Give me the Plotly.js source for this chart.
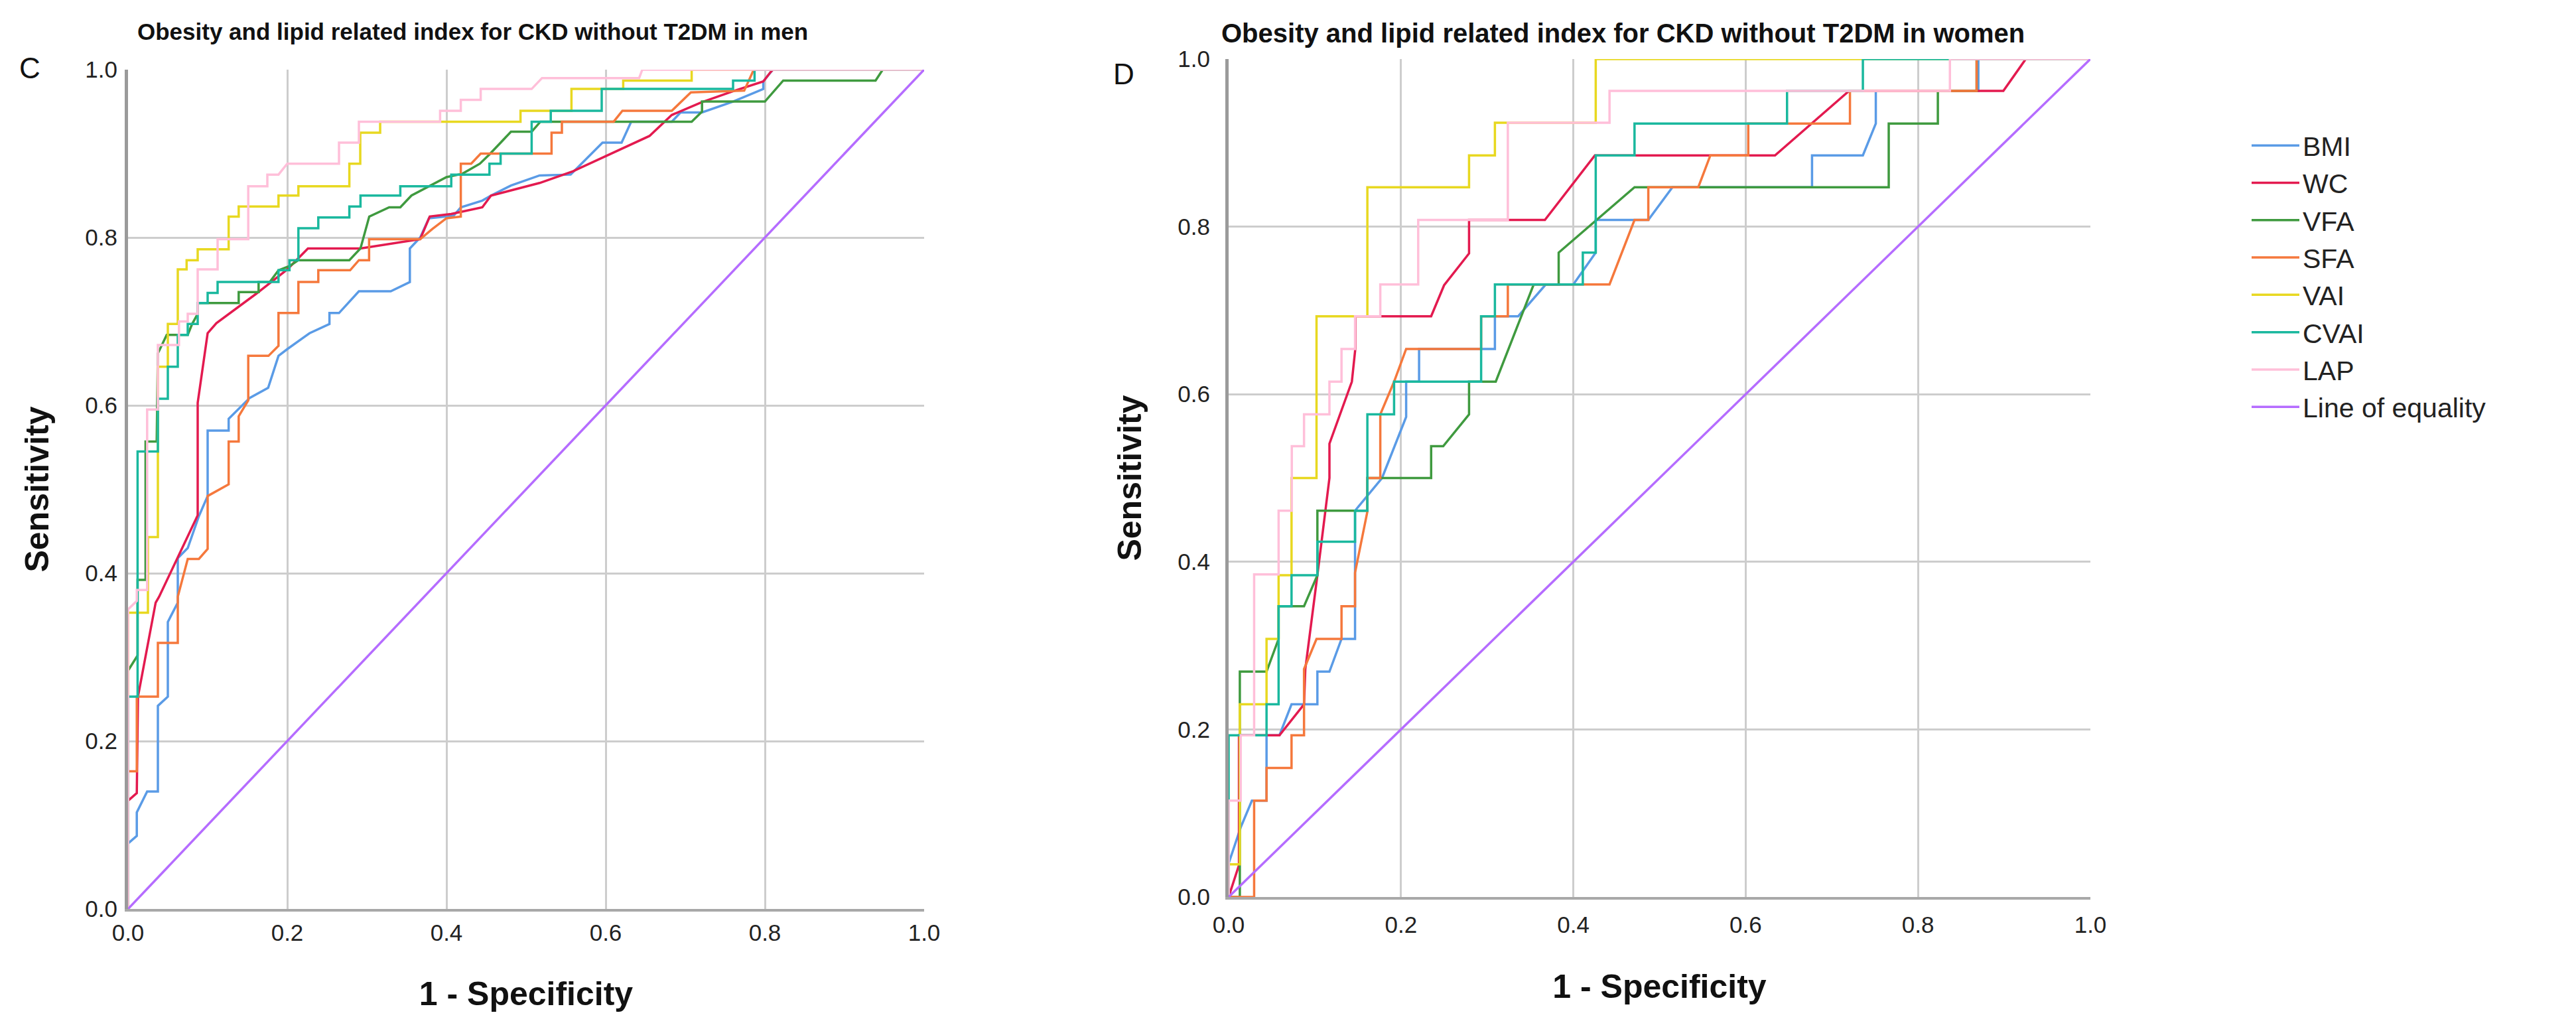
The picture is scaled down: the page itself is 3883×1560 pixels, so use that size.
<!DOCTYPE html>
<html>
<head>
<meta charset="utf-8">
<script src="https://cdn.plot.ly/plotly-3.0.1.min.js"></script>
<style>
html,body{margin:0;padding:0;background:#fff;}
#chart{width:3883px;height:1560px;}
</style>
</head>
<body>
<div id="chart"></div>
<script>
// ---------- series names & colours ----------
var seriesNames = ["BMI","WC","VFA","SFA","VAI","CVAI","LAP"];
var seriesColors = ["#5a9be6","#e31a4f","#3f9a3f","#f5783c","#e8d820","#1ab89e","#ffbfd9"];
var equalityColor = "#b56cff";
var tickVals = [0,0.2,0.4,0.6,0.8,1.0];
var tickText = ["0.0","0.2","0.4","0.6","0.8","1.0"];

// ---------- Panel C : men (1 - specificity, sensitivity) ----------
var menBMI_x = [0,0,0.011,0.011,0.024,0.0375,0.0375,0.05,0.05,0.0625,0.0625,0.075,0.089,0.1,0.1,0.1264,0.1264,0.139,0.153,0.176,0.189,0.2,0.228,0.253,0.253,0.265,0.29,0.33,0.354,0.354,0.367,0.378,0.409,0.418,0.445,0.456,0.481,0.517,0.556,0.596,0.62,0.632,0.683,0.694,0.721,0.76,0.798,0.798,0.81,1];
var menBMI_y = [0,0.078,0.087,0.115,0.14,0.14,0.242,0.253,0.342,0.365,0.418,0.43,0.468,0.492,0.57,0.57,0.584,0.596,0.609,0.621,0.659,0.667,0.686,0.697,0.71,0.71,0.736,0.736,0.747,0.787,0.8,0.823,0.826,0.836,0.844,0.85,0.862,0.874,0.875,0.913,0.913,0.938,0.938,0.949,0.949,0.962,0.977,0.986,1,1];

var menWC_x = [0,0,0.011,0.0125,0.0347,0.039,0.064,0.0875,0.0875,0.1,0.111,0.161,0.2,0.226,0.292,0.339,0.367,0.379,0.406,0.445,0.456,0.517,0.559,0.6,0.655,0.683,0.72,0.759,0.798,0.807,0.81,1];
var menWC_y = [0,0.129,0.138,0.253,0.365,0.372,0.422,0.469,0.603,0.686,0.698,0.733,0.762,0.787,0.787,0.794,0.798,0.825,0.828,0.836,0.85,0.865,0.879,0.897,0.921,0.946,0.961,0.974,0.986,0.997,1,1];

var menVFA_x = [0,0,0.012,0.012,0.022,0.022,0.036,0.0375,0.0486,0.075,0.0805,0.0875,0.0875,0.139,0.139,0.164,0.164,0.178,0.189,0.203,0.214,0.278,0.292,0.303,0.328,0.342,0.356,0.378,0.4,0.42,0.442,0.454,0.468,0.481,0.507,0.518,0.708,0.721,0.721,0.80,0.823,0.939,0.948,1];
var menVFA_y = [0,0.284,0.302,0.392,0.392,0.557,0.557,0.662,0.684,0.684,0.697,0.709,0.722,0.722,0.735,0.735,0.747,0.747,0.761,0.766,0.773,0.773,0.787,0.825,0.836,0.836,0.85,0.861,0.872,0.876,0.888,0.899,0.913,0.926,0.926,0.938,0.938,0.95,0.962,0.962,0.987,0.987,1,1];

var menSFA_x = [0,0,0.011,0.011,0.0375,0.0375,0.0625,0.0625,0.075,0.089,0.1,0.1,0.1264,0.1264,0.139,0.139,0.151,0.151,0.1764,0.189,0.189,0.214,0.214,0.239,0.239,0.279,0.29,0.3028,0.3028,0.367,0.382,0.4,0.418,0.418,0.431,0.443,0.532,0.532,0.545,0.545,0.61,0.621,0.683,0.707,0.774,0.786,1];
var menSFA_y = [0,0.164,0.164,0.253,0.253,0.317,0.317,0.372,0.417,0.417,0.429,0.492,0.506,0.557,0.557,0.587,0.606,0.659,0.659,0.671,0.71,0.71,0.747,0.747,0.761,0.761,0.773,0.773,0.798,0.798,0.81,0.823,0.825,0.888,0.888,0.9,0.9,0.925,0.925,0.938,0.938,0.951,0.951,0.973,0.975,1,1];

var menVAI_x = [0,0,0.025,0.025,0.0375,0.0375,0.05,0.05,0.0625,0.0625,0.0736,0.0736,0.0875,0.0875,0.1264,0.1264,0.139,0.139,0.189,0.189,0.214,0.214,0.278,0.278,0.2917,0.2917,0.3167,0.3167,0.493,0.493,0.557,0.557,0.622,0.622,0.708,0.708,1];
var menVAI_y = [0,0.353,0.353,0.443,0.443,0.646,0.646,0.697,0.697,0.762,0.762,0.773,0.773,0.786,0.786,0.825,0.825,0.837,0.837,0.85,0.85,0.861,0.861,0.888,0.888,0.925,0.925,0.938,0.938,0.951,0.951,0.977,0.977,0.987,0.987,1,1];

var menCVAI_x = [0,0,0.012,0.012,0.0375,0.0375,0.05,0.05,0.0625,0.0625,0.075,0.075,0.0875,0.0875,0.1,0.1,0.1125,0.1125,0.189,0.189,0.2028,0.2028,0.214,0.214,0.239,0.239,0.278,0.278,0.292,0.292,0.342,0.342,0.406,0.406,0.454,0.454,0.468,0.468,0.507,0.507,0.531,0.531,0.595,0.595,0.76,0.76,0.787,0.787,1];
var menCVAI_y = [0,0.253,0.253,0.545,0.545,0.608,0.608,0.646,0.646,0.684,0.684,0.697,0.697,0.722,0.722,0.734,0.734,0.747,0.747,0.761,0.761,0.773,0.773,0.811,0.811,0.824,0.824,0.837,0.837,0.85,0.85,0.861,0.861,0.875,0.875,0.888,0.888,0.9,0.9,0.938,0.938,0.951,0.951,0.977,0.977,0.987,0.987,1,1];

var menLAP_x = [0,0,0.011,0.011,0.024,0.024,0.0375,0.0375,0.064,0.064,0.075,0.075,0.0875,0.0875,0.1125,0.1125,0.151,0.151,0.175,0.175,0.189,0.2,0.265,0.265,0.29,0.29,0.392,0.392,0.418,0.418,0.443,0.443,0.507,0.52,0.642,0.646,1];
var menLAP_y = [0,0.357,0.367,0.38,0.38,0.595,0.595,0.672,0.672,0.70,0.70,0.709,0.709,0.762,0.762,0.798,0.798,0.861,0.861,0.875,0.875,0.888,0.888,0.913,0.913,0.938,0.938,0.951,0.951,0.964,0.964,0.977,0.977,0.99,0.99,1,1];

// ---------- Panel D : women ----------
var womenBMI_x = [0,0,0.014,0.027,0.044,0.044,0.059,0.073,0.103,0.103,0.117,0.131,0.1467,0.1467,0.178,0.206,0.206,0.221,0.221,0.309,0.309,0.336,0.368,0.4,0.426,0.426,0.471,0.487,0.515,0.677,0.677,0.736,0.751,0.751,0.87,0.87,1];
var womenBMI_y = [0,0.04,0.083,0.115,0.115,0.193,0.193,0.23,0.23,0.269,0.269,0.308,0.308,0.461,0.5,0.573,0.615,0.615,0.654,0.654,0.693,0.693,0.731,0.731,0.769,0.808,0.808,0.808,0.847,0.847,0.885,0.885,0.923,0.962,0.962,1,1];

var womenWC_x = [0,0.012,0.012,0.059,0.0875,0.089,0.103,0.117,0.117,0.143,0.147,0.147,0.235,0.25,0.279,0.279,0.367,0.425,0.634,0.72,0.899,0.925,1];
var womenWC_y = [0,0.038,0.193,0.193,0.23,0.272,0.384,0.5,0.541,0.615,0.654,0.693,0.693,0.73,0.768,0.808,0.808,0.885,0.885,0.962,0.962,1,1];

var womenVFA_x = [0,0.013,0.013,0.044,0.058,0.058,0.0875,0.103,0.103,0.161,0.161,0.235,0.235,0.249,0.279,0.279,0.31,0.354,0.383,0.383,0.471,0.766,0.766,0.823,0.823,0.868,0.868,1];
var womenVFA_y = [0,0,0.269,0.269,0.308,0.347,0.347,0.384,0.461,0.461,0.5,0.5,0.538,0.538,0.576,0.615,0.615,0.731,0.731,0.769,0.847,0.847,0.923,0.923,0.962,0.962,1,1];

var womenSFA_x = [0,0.0296,0.0296,0.044,0.044,0.073,0.073,0.0875,0.0875,0.102,0.131,0.131,0.1467,0.1467,0.161,0.161,0.176,0.176,0.192,0.206,0.293,0.293,0.324,0.324,0.442,0.471,0.487,0.487,0.545,0.559,0.603,0.603,0.721,0.721,0.868,0.868,1];
var womenSFA_y = [0,0,0.115,0.115,0.154,0.154,0.193,0.193,0.272,0.308,0.308,0.347,0.347,0.387,0.46,0.5,0.5,0.576,0.615,0.654,0.654,0.693,0.693,0.731,0.731,0.808,0.808,0.847,0.847,0.885,0.885,0.923,0.923,0.962,0.962,1,1];

var womenVAI_x = [0,0,0.013,0.013,0.044,0.044,0.058,0.058,0.073,0.073,0.102,0.102,0.161,0.161,0.279,0.279,0.309,0.309,0.426,0.426,1];
var womenVAI_y = [0,0.039,0.039,0.23,0.23,0.308,0.308,0.384,0.384,0.5,0.5,0.693,0.693,0.847,0.847,0.885,0.885,0.924,0.924,1,1];

var womenCVAI_x = [0,0,0.044,0.044,0.058,0.058,0.073,0.073,0.103,0.103,0.1467,0.1467,0.161,0.161,0.192,0.192,0.293,0.293,0.309,0.309,0.411,0.411,0.426,0.426,0.471,0.471,0.648,0.648,0.736,0.736,1];
var womenCVAI_y = [0,0.193,0.193,0.23,0.23,0.347,0.347,0.384,0.384,0.424,0.424,0.461,0.461,0.576,0.576,0.615,0.615,0.693,0.693,0.731,0.731,0.769,0.769,0.885,0.885,0.923,0.923,0.962,0.962,1,1];

var womenLAP_x = [0,0,0.014,0.014,0.0296,0.0296,0.058,0.058,0.0733,0.0733,0.0875,0.0875,0.117,0.117,0.131,0.131,0.1467,0.1467,0.176,0.176,0.22,0.22,0.324,0.324,0.442,0.442,0.837,0.837,1];
var womenLAP_y = [0,0.115,0.115,0.193,0.193,0.385,0.385,0.461,0.461,0.538,0.538,0.576,0.576,0.615,0.615,0.654,0.654,0.693,0.693,0.731,0.731,0.808,0.808,0.924,0.924,0.962,0.962,1,1];

var equality_x = [0,1];
var equality_y = [0,1];

var menX = [menBMI_x,menWC_x,menVFA_x,menSFA_x,menVAI_x,menCVAI_x,menLAP_x];
var menY = [menBMI_y,menWC_y,menVFA_y,menSFA_y,menVAI_y,menCVAI_y,menLAP_y];
var womenX = [womenBMI_x,womenWC_x,womenVFA_x,womenSFA_x,womenVAI_x,womenCVAI_x,womenLAP_x];
var womenY = [womenBMI_y,womenWC_y,womenVFA_y,womenSFA_y,womenVAI_y,womenCVAI_y,womenLAP_y];

var LW = 3.5;
var traces = [];
function addPanel(xs, ys, xa, ya, legend){
  for (var i = 0; i < seriesNames.length; i++){
    traces.push({
      type:'scatter', mode:'lines', x:xs[i], y:ys[i], xaxis:xa, yaxis:ya,
      name:seriesNames[i], legendgroup:seriesNames[i], showlegend:legend,
      line:{color:seriesColors[i], width:LW, shape:'linear'}, hoverinfo:'skip'
    });
  }
  traces.push({
    type:'scatter', mode:'lines', x:equality_x, y:equality_y, xaxis:xa, yaxis:ya,
    name:'Line of equality', legendgroup:'eq', showlegend:legend,
    line:{color:equalityColor, width:LW}, hoverinfo:'skip'
  });
}
addPanel(menX, menY, 'x', 'y', false);
addPanel(womenX, womenY, 'x2', 'y2', true);

var FONT = 'Liberation Sans, Arial, sans-serif';
var tickFont = {family:FONT, size:35, color:'#222'};
var axTitleFont = {family:FONT, size:50, color:'#111', weight:'bold'};

function xAxis(domain, anchor, tl, so){
  return {domain:domain, anchor:anchor, range:[0,1], tickvals:tickVals, ticktext:tickText,
    showgrid:true, gridcolor:'#cdcdcd', gridwidth:3, zeroline:false,
    showline:true, linecolor:'#a8a8a8', linewidth:4, mirror:false,
    ticks:'outside', ticklen:tl, tickcolor:'rgba(0,0,0,0)', tickfont:tickFont,
    title:{text:'<b>1 - Specificity</b>', font:axTitleFont, standoff:so}, fixedrange:true};
}
function yAxis(domain, anchor, tl){
  return {domain:domain, anchor:anchor, range:[0,1], tickvals:tickVals, ticktext:tickText,
    showgrid:true, gridcolor:'#cdcdcd', gridwidth:3, zeroline:false,
    showline:true, linecolor:'#9a9a9a', linewidth:5, mirror:false,
    ticks:'outside', ticklen:tl, tickcolor:'rgba(0,0,0,0)', tickfont:tickFont,
    title:{text:'<b>Sensitivity</b>', font:axTitleFont, standoff:40}, fixedrange:true};
}

var W = 3883, H = 1560;
var layout = {
  width:W, height:H, paper_bgcolor:'#fff', plot_bgcolor:'#fff',
  margin:{l:0,r:0,t:0,b:0}, showlegend:true,
  xaxis: xAxis([193/W, 1393/W], 'y', 2, 57),
  yaxis: yAxis([1-1370/H, 1-105/H], 'x', 4),
  xaxis2: xAxis([1852/W, 3151/W], 'y2', 8, 58),
  yaxis2: yAxis([1-1352/H, 1-89/H], 'x2', 16),
  legend:{x:3389/W, y:1-186/H, xanchor:'left', yanchor:'top',
    font:{family:FONT, size:41, color:'#222'}, itemwidth:72, bgcolor:'rgba(0,0,0,0)',
    tracegroupgap:0},
  annotations:[
    {text:'<b>Obesity and lipid related index for CKD without T2DM in men</b>', xref:'paper', yref:'paper',
     x:205/W, y:1-47/H, xanchor:'left', yanchor:'middle', showarrow:false,
     font:{family:FONT, size:35, color:'#111'}},
    {text:'<b>Obesity and lipid related index for CKD without T2DM in women</b>', xref:'paper', yref:'paper',
     x:1839/W, y:1-50/H, xanchor:'left', yanchor:'middle', showarrow:false,
     font:{family:FONT, size:40, color:'#111'}},
    {text:'C', xref:'paper', yref:'paper', x:27/W, y:1-103/H, xanchor:'left', yanchor:'middle', showarrow:false,
     font:{family:FONT, size:44, color:'#111'}},
    {text:'D', xref:'paper', yref:'paper', x:1676/W, y:1-112/H, xanchor:'left', yanchor:'middle', showarrow:false,
     font:{family:FONT, size:44, color:'#111'}}
  ]
};

Plotly.newPlot('chart', traces, layout, {staticPlot:true, displayModeBar:false});
</script>
</body>
</html>
